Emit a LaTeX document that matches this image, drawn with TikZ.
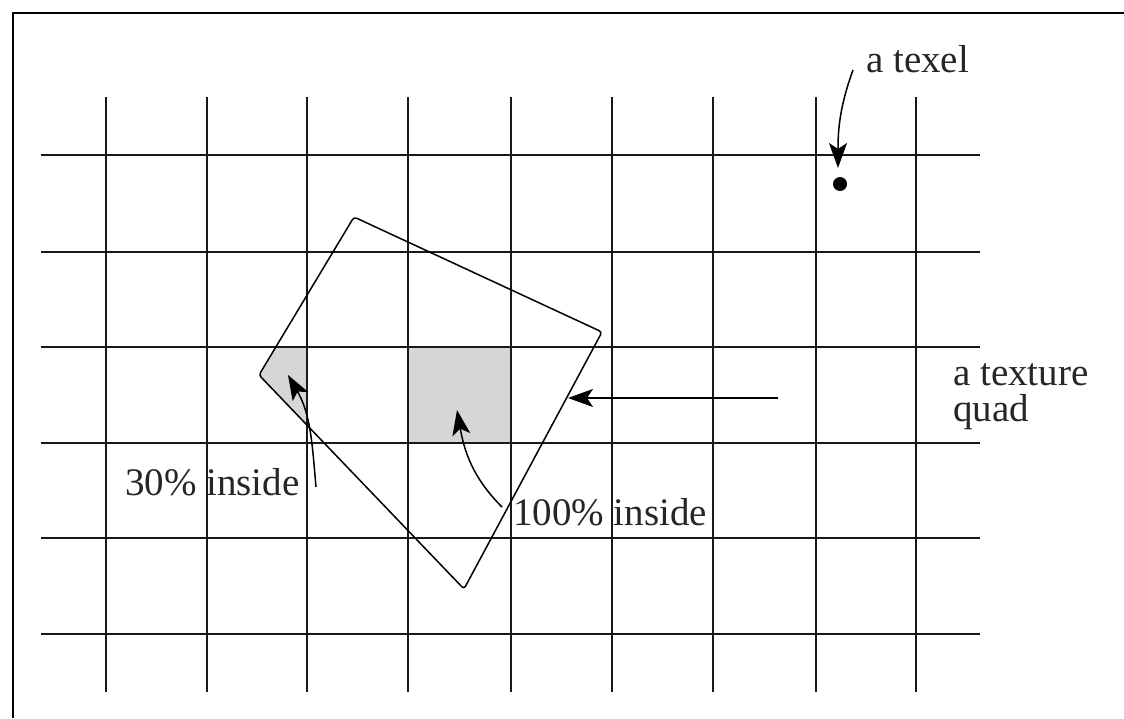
\documentclass[tikz,border=0pt]{standalone}
\usepackage{fontspec}
\setmainfont{Liberation Serif}
\usetikzlibrary{arrows.meta}
\begin{document}
\begin{tikzpicture}[x=1pt,y=-1pt,
  gridline/.style={line width=2pt, black!90},
  quadline/.style={line width=1.5pt, rounded corners=3pt},
  shade/.style={fill=black!16},
  arr/.style={line width=1.5pt, -{Stealth[length=25pt,width=18pt,inset=6pt]}},
  lbl/.style={font=\fontsize{39}{36}\selectfont, inner sep=0pt, anchor=base west, text=black!85}]
\useasboundingbox (0,0) rectangle (1124,718);
\fill[white] (0,0) rectangle (1124,718);
% quad corners
\coordinate (q1) at (354,217);
\coordinate (q2) at (602,332);
\coordinate (q3) at (464,589);
\coordinate (q4) at (259,375);
% shaded texels
\begin{scope}
  \clip (207,347) rectangle (307,443);
  \fill[shade] (q1) -- (q2) -- (q3) -- (q4) -- cycle;
\end{scope}
\fill[shade] (408,347) rectangle (511,443);
% grid
\foreach \x in {106,207,307,408,511,612,713,816,916}
  \draw[gridline] (\x,97) -- (\x,692);
\foreach \y in {155,252,347,443,538,634}
  \draw[gridline] (41,\y) -- (980,\y);
% frame
\draw[line width=2pt] (13,718) -- (13,13) -- (1124,13);
% quad
\draw[quadline] (q1) -- (q2) -- (q3) -- (q4) -- cycle;
% texel
\fill (840,184) circle[radius=7];
% labels
\node[lbl] (texel) at (866,72) {a texel};
\node[lbl] (thirty) at (125,495) {30\% inside};
\node[lbl] (hundred) at (513,525) {100\% inside};
\node[lbl, align=left] (tq) at (953,421) {a texture\\quad};
% arrow endpoints
\coordinate (t0) at (853,70);
\coordinate (t1) at (838,168);
\coordinate (p0) at (316,487);
\coordinate (p1) at (288,375);
\coordinate (h0) at (502,507);
\coordinate (h1) at (457,410);
\coordinate (a0) at (778,398);
\coordinate (a1) at (568,398);
% arrows
\draw[arr] (t0) to[out=-110,in=90] (t1);
\draw[arr] (p0) to[out=95,in=-60] (p1);
\draw[arr] (h0) to[out=135,in=-80] (h1);
\draw[arr] (a0) -- (a1);
\end{tikzpicture}
\end{document}
